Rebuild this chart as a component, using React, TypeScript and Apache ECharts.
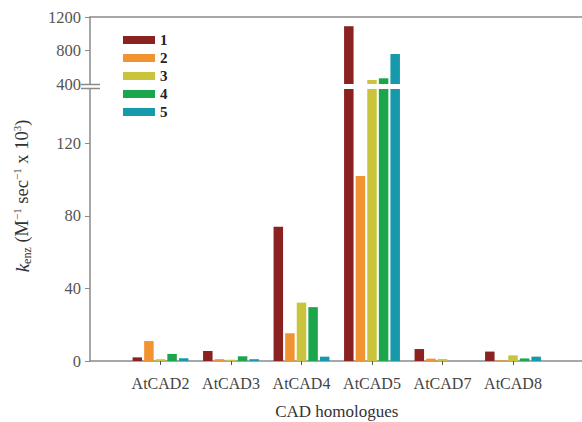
import React, { useEffect, useRef } from "react";
import * as echarts from "echarts";

const categories = ["AtCAD2", "AtCAD3", "AtCAD4", "AtCAD5", "AtCAD7", "AtCAD8"];
const seriesNames = ["1", "2", "3", "4", "5"];
const s1 = [2.0, 5.5, 74, 1090, 6.6, 5.2];
const s2 = [11, 1.0, 15.3, 102, 1.3, 0.4];
const s3 = [1.0, 0.7, 32.2, 448, 1.1, 3.1];
const s4 = [3.9, 2.6, 29.7, 468, 0, 1.4];
const s5 = [1.5, 1.0, 2.4, 758, 0, 2.4];
const seriesValues = [s1, s2, s3, s4, s5];
const colors = ["#8a2222", "#f29331", "#c9c43c", "#1ba64e", "#1599ab"];
const lowerTicks = [0, 40, 80, 120];
const upperLabels = [400, 800, 1200];
const upperTicks = [800, 1200];
const LOWER_MAX = 150;
const UPPER_MIN = 400;
const UPPER_MAX = 1200;

const FONT = "Liberation Serif";
const AXIS_COLOR = "#8a8a8a";

export default function App() {
  const ref = useRef<HTMLDivElement>(null);
  useEffect(() => {
    if (!ref.current) return;
    const chart = echarts.init(ref.current, undefined, { renderer: "svg" });
    const paddedCats = [" ", ...categories, "  "];
    const pad = (arr: (number | null)[]) => [null, ...arr, null];

    const lowerSeries = seriesValues.map((vals, i) => ({
      name: seriesNames[i],
      type: "bar",
      xAxisIndex: 0,
      yAxisIndex: 0,
      barWidth: 9.5,
      barGap: "22%",
      itemStyle: { color: colors[i] },
      data: pad(vals.map((v) => (v > 0 ? Math.min(v, LOWER_MAX) : null))),
    }));
    const upperSeries = seriesValues.map((vals, i) => ({
      name: seriesNames[i],
      type: "bar",
      xAxisIndex: 1,
      yAxisIndex: 1,
      barWidth: 9.5,
      barGap: "22%",
      itemStyle: { color: colors[i] },
      data: pad(vals.map((v) => (v > UPPER_MIN ? v : null))),
    }));

    const xBase = {
      type: "category",
      data: paddedCats,
      boundaryGap: false,
      axisLine: { lineStyle: { color: AXIS_COLOR, width: 1.5 } },
      splitLine: { show: false },
    };
    const numFmt = (v: number) => String(v);

    chart.setOption({
      animation: false,
      backgroundColor: "#ffffff",
      textStyle: { fontFamily: FONT },
      legend: {
        data: seriesNames,
        orient: "vertical",
        left: 118,
        top: 27,
        itemWidth: 32,
        itemHeight: 8,
        itemGap: 2,
        icon: "rect",
        textStyle: { fontFamily: FONT, fontWeight: "bold", fontSize: 15, lineHeight: 16, color: "#222" },
      },
      grid: [
        { left: 90, right: -1.5, top: 89, bottom: 61, outerBoundsMode: "none", containLabel: false },
        { left: 90, right: -1.5, top: 17, height: 67, outerBoundsMode: "none", containLabel: false },
      ],
      xAxis: [
        {
          ...xBase,
          gridIndex: 0,
          position: "bottom",
          name: "CAD homologues",
          nameLocation: "middle",
          nameGap: 42,
          nameTextStyle: { fontFamily: FONT, fontSize: 17, color: "#333" },
          axisTick: {
            show: true,
            length: 4,
            lineStyle: { color: "#555" },
            interval: (_i: number, v: string) => v.trim() !== "",
          },
          axisLabel: {
            fontFamily: FONT,
            fontSize: 16,
            color: "#444",
            margin: 14,
            interval: 0,
          },
        },
        {
          ...xBase,
          gridIndex: 1,
          position: "top",
          axisTick: { show: false },
          axisLabel: { show: false },
        },
      ],
      yAxis: [
        {
          type: "value",
          gridIndex: 0,
          min: 0,
          max: LOWER_MAX,
          splitLine: { show: false },
          axisLine: { show: true, lineStyle: { color: AXIS_COLOR, width: 1.5 } },
          axisTick: { show: true, length: 5, customValues: lowerTicks, lineStyle: { color: AXIS_COLOR } },
          axisLabel: { customValues: lowerTicks, formatter: numFmt, fontFamily: FONT, fontSize: 16.5, color: "#555", margin: 9 },
        },
        {
          type: "value",
          gridIndex: 1,
          min: UPPER_MIN,
          max: UPPER_MAX,
          splitLine: { show: false },
          axisLine: { show: true, lineStyle: { color: AXIS_COLOR, width: 1.5 } },
          axisTick: { show: true, length: 5, customValues: upperTicks, lineStyle: { color: AXIS_COLOR } },
          axisLabel: { customValues: upperLabels, formatter: numFmt, fontFamily: FONT, fontSize: 16.5, color: "#555", margin: 9 },
        },
      ],
      graphic: [
        {
          type: "line",
          shape: { x1: 81, y1: 84.5, x2: 100, y2: 84.5 },
          style: { stroke: AXIS_COLOR, lineWidth: 1.5 },
          z: 100,
        },
        {
          type: "line",
          shape: { x1: 81, y1: 88.5, x2: 100, y2: 88.5 },
          style: { stroke: AXIS_COLOR, lineWidth: 1.5 },
          z: 100,
        },
        {
          type: "text",
          x: 22,
          y: 196,
          rotation: Math.PI / 2,
          style: {
            text: "{i|k}{sub|enz}{n| (M}{sup|−1}{n| sec}{sup|−1}{n| x 10}{sup|3}{n|)}",
            align: "center",
            verticalAlign: "middle",
            fontFamily: FONT,
            fill: "#333",
            rich: {
              i: { fontFamily: FONT, fontSize: 19, fontStyle: "italic", lineHeight: 22, verticalAlign: "middle", fill: "#333" },
              n: { fontFamily: FONT, fontSize: 18.5, lineHeight: 22, verticalAlign: "middle", fill: "#333" },
              sub: { fontFamily: FONT, fontSize: 12, lineHeight: 13, verticalAlign: "bottom", fill: "#333" },
              sup: { fontFamily: FONT, fontSize: 11, lineHeight: 11, verticalAlign: "top", fill: "#333" },
            },
          },
        },
      ],
      series: [...lowerSeries, ...upperSeries],
    });
    return () => chart.dispose();
  }, []);
  return (
    <div
      ref={ref}
      style={{ position: "absolute", left: 0, top: 0, width: 582, height: 422, background: "#fff" }}
    />
  );
}
